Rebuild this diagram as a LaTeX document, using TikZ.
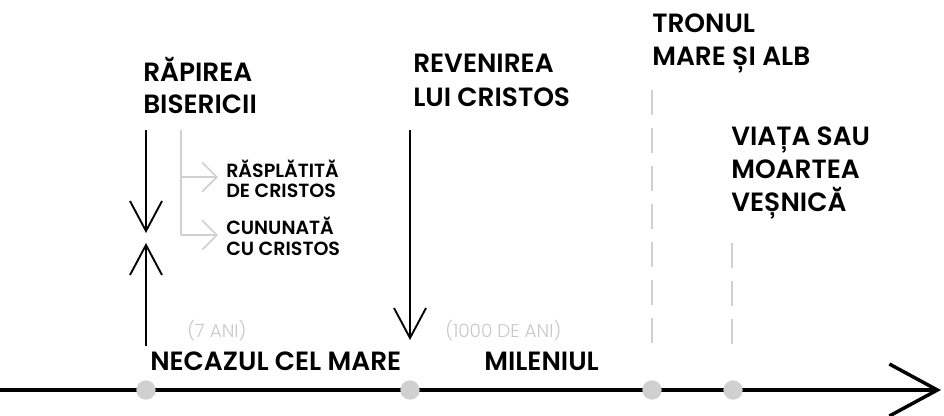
\documentclass[tikz,border=0pt]{standalone}
\usepackage{fontspec}
\setmainfont{Poppins}[BoldFont={Poppins SemiBold}]
\newfontfamily\lightfont{Poppins Light}
\usetikzlibrary{arrows.meta}
\definecolor{lgray}{HTML}{D0D0D0}
\definecolor{tgray}{HTML}{C8C8C8}
\tikzset{
  big/.style={anchor=base west, inner sep=0pt, font=\fontsize{19.8}{22}\selectfont\bfseries},
  small/.style={anchor=base west, inner sep=0pt, font=\fontsize{14.3}{16}\selectfont\bfseries},
  note/.style={anchor=base west, inner sep=0pt, text=tgray, font=\lightfont\fontsize{13.8}{15}\selectfont},
  blackarrow/.style={line width=1.4pt, -{Straight Barb[length=22.5pt, width=24pt, line width=1.4pt]}},
  grayarrow/.style={lgray, line width=1.2pt, -{Straight Barb[length=11pt, width=22pt, line width=1.2pt]}},
  dashline/.style={lgray, line width=2.2pt, dash pattern=on 19pt off 9.5pt},
  dot/.style={circle, fill=lgray, minimum size=14.5pt, inner sep=0pt},
}
\begin{document}
\begin{tikzpicture}[x=0.75pt, y=-0.75pt]
\useasboundingbox (0,0) rectangle (944,415);
% timeline
\coordinate (tl0) at (0,390);
\coordinate (tlend) at (941,390);
\draw[line width=2.7pt, -{Straight Barb[length=36pt, width=39pt, line width=2.6pt]}] (tl0) -- (tlend);
\node[dot] (d1) at (146,390) {};
\node[dot] (d2) at (410,390) {};
\node[dot] (d3) at (652,390) {};
\node[dot] (d4) at (733,390) {};
% left arrows
\coordinate (a1s) at (146,130);
\coordinate (a1e) at (146,233);
\draw[blackarrow] (a1s) -- (a1e);
\coordinate (a2s) at (146,346);
\coordinate (a2e) at (146,243);
\draw[blackarrow] (a2s) -- (a2e);
% revenirea arrow
\coordinate (a3s) at (410,130);
\coordinate (a3e) at (410,340);
\draw[blackarrow] (a3s) -- (a3e);
% gray bracket
\coordinate (b0) at (181,130);
\coordinate (b1) at (181,177);
\coordinate (b2) at (181,235);
\coordinate (b1e) at (218,177);
\coordinate (b2e) at (218,235);
\draw[lgray, line width=1.2pt] (b0) -- (b2);
\draw[grayarrow] (b1) -- (b1e);
\draw[grayarrow] (b2) -- (b2e);
% dashed lines
\coordinate (l1s) at (652,90);
\coordinate (l1e) at (652,345);
\draw[dashline] (l1s) -- (l1e);
\coordinate (l2s) at (732,243);
\coordinate (l2e) at (732,345);
\draw[dashline] (l2s) -- (l2e);
% texts
\node[big] (t1) at (143,81) {RĂPIREA};
\node[big] (t2) at (143,113) {BISERICII};
\node[big] (t3) at (413,72) {REVENIREA};
\node[big] (t4) at (413,106) {LUI CRISTOS};
\node[big] (t5) at (652,32) {TRONUL};
\node[big] (t6) at (652,65) {MARE ȘI ALB};
\node[big] (t7) at (731,145) {VIAȚA SAU};
\node[big] (t8) at (731,178) {MOARTEA};
\node[big] (t9) at (731,211) {VEȘNICĂ};
\node[small] (s1) at (226,177) {RĂSPLĂTITĂ};
\node[small] (s2) at (226,197) {DE CRISTOS};
\node[small] (s3) at (226,234) {CUNUNATĂ};
\node[small] (s4) at (226,255) {CU CRISTOS};
\node[note] (n1) at (187,337) {(7 ANI)};
\node[note] (n2) at (445,337) {(1000 DE ANI)};
\node[big] (p1) at (150,370) {NECAZUL CEL MARE};
\node[big] (p2) at (484,370) {MILENIUL};
\end{tikzpicture}
\end{document}
